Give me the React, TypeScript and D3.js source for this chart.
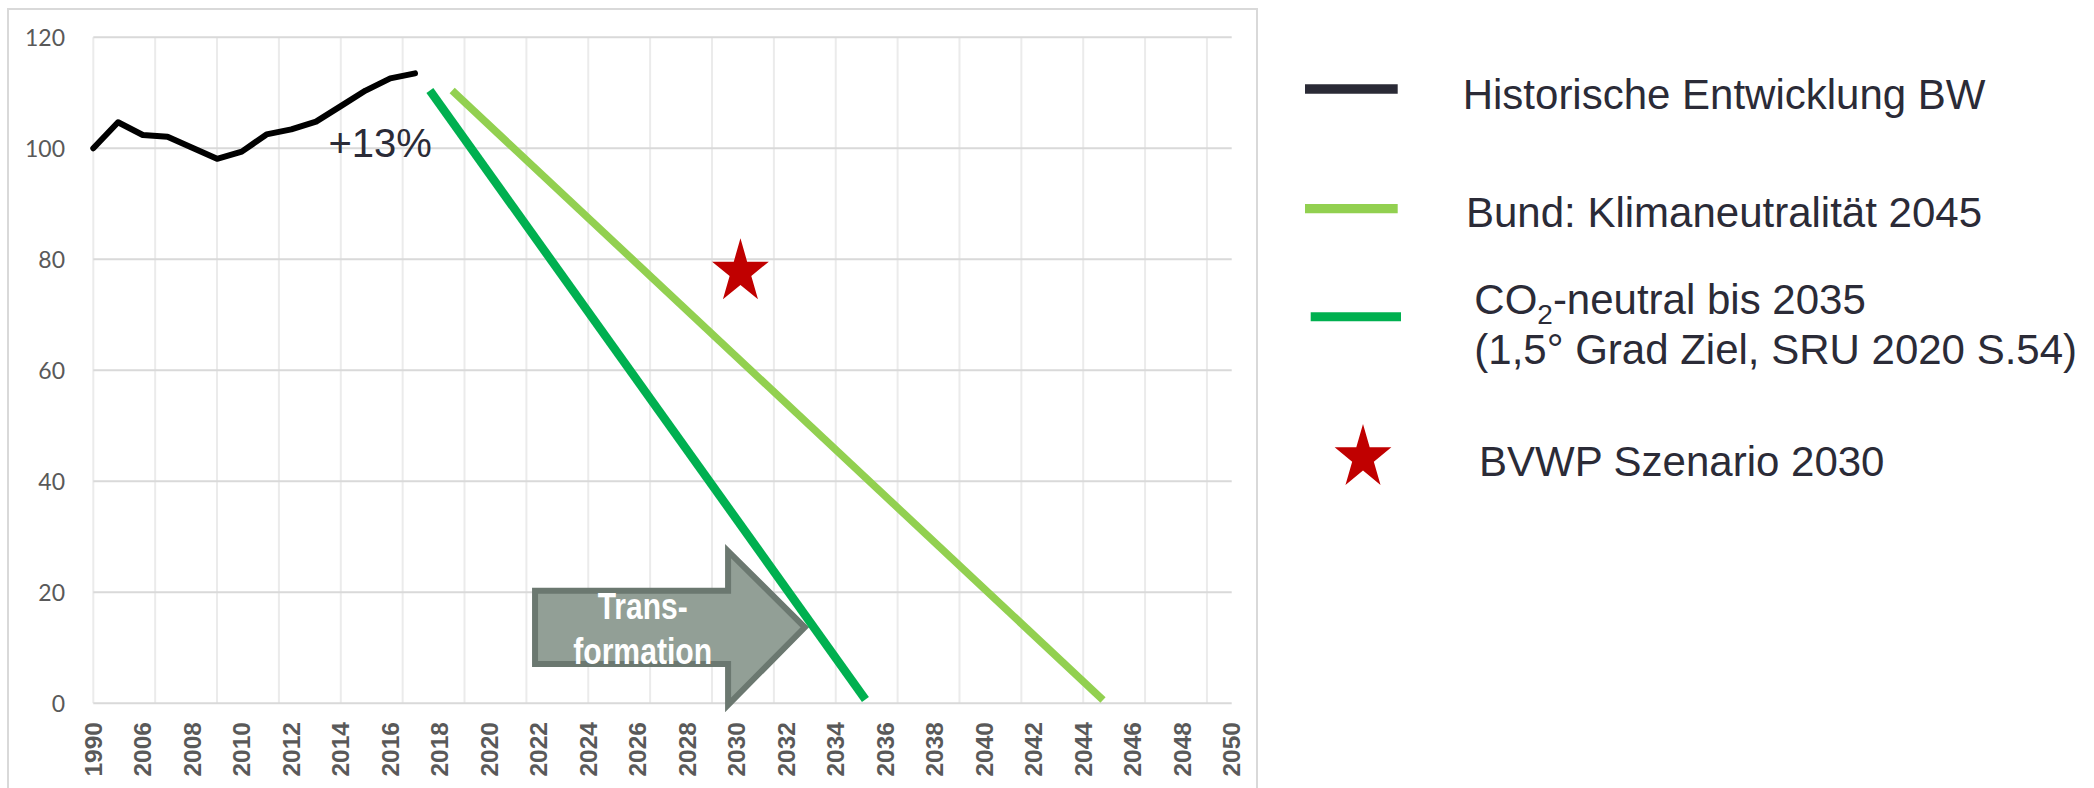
import React from "react";
import * as d3 from "d3";

// Category axis: 1990, then 2006 … 2050 in steps of two
const tickYears: number[] = [1990, ...d3.range(2006, 2051, 2)];
const yTicks: number[] = [0, 20, 40, 60, 80, 100, 120];

// Historical development (index, 1990 = 100)
const histYears: number[] = [1990, 2005, 2006, 2007, 2008, 2009, 2010, 2011, 2012, 2013, 2014, 2015, 2016, 2017];
const histValues: number[] = [100, 104.7, 102.4, 102.1, 100.1, 98.1, 99.4, 102.5, 103.4, 104.8, 107.6, 110.4, 112.6, 113.5];

// Reduction paths
const bundYears: number[] = [2018.5, 2044.8];
const bundValues: number[] = [110.4, 0.6];
const co2Years: number[] = [2017.6, 2035.2];
const co2Values: number[] = [110.4, 0.7];

// BVWP scenario point
const bvwpYear = 2030.15;
const bvwpValue = 77.7;

const COLORS = {
  hist: "#000000",
  histLegend: "#2a2a36",
  bund: "#92d050",
  co2: "#00b050",
  star: "#c00000",
  text: "#2b2b37",
  axis: "#595959",
};

// Position on the category axis: 1990 sits at slot 0, later years run two per slot
const slot = (year: number): number => (year === 1990 ? 0 : 1 + (year - 2006) / 2);

const x = d3.scaleLinear().domain([0, tickYears.length - 1]).range([93.3, 1231.7]);
const y = d3.scaleLinear().domain([0, 120]).range([703.3, 37.3]);
const xy = (yr: number, v: number): [number, number] => [x(slot(yr)), y(v)];

const line = d3.line<[number, number]>().x((d) => d[0]).y((d) => d[1]);

const histPts = histYears.map((yr, i) => xy(yr, histValues[i]));
const bundPts = bundYears.map((yr, i) => xy(yr, bundValues[i]));
const co2Pts = co2Years.map((yr, i) => xy(yr, co2Values[i]));

const starPath = d3.symbol().type(d3.symbolStar).size(1275)() as string;

// vertical grid every 1.25 category slots
const vGrid = d3.range(0, 18.01, 1).map((k) => k * 1.25);

const sans = "'Liberation Sans', Arial, Helvetica, sans-serif";
const narrow = "'Liberation Sans Narrow', 'Arial Narrow', 'Liberation Sans', Arial, sans-serif";

export default function App() {
  const [sx, sy] = xy(bvwpYear, bvwpValue);
  const arrowX0 = x(slot(2021.85));
  const arrowXh = x(slot(2029.65));
  const arrowXt = x(slot(2032.75));
  const bodyTop = y(20.3);
  const bodyBot = y(7.1);
  const headTop = y(27.4);
  const headBot = y(-0.3);
  const headMid = (bodyTop + bodyBot) / 2;
  const arrowPath = [
    `M${arrowX0},${bodyTop}`,
    `L${arrowXh},${bodyTop}`,
    `L${arrowXh},${headTop}`,
    `L${arrowXt},${headMid}`,
    `L${arrowXh},${headBot}`,
    `L${arrowXh},${bodyBot}`,
    `L${arrowX0},${bodyBot}`,
    "Z",
  ].join(" ");
  const arrowTextX = x(slot(2026.2));

  return (
    <svg
      width={2094}
      height={788}
      style={{ position: "absolute", left: 0, top: 0, display: "block", background: "#fff" }}
    >
      {/* chart frame */}
      <rect x={8} y={9} width={1249} height={800} fill="none" stroke="#d9d9d9" strokeWidth={2} />

      {/* grid */}
      {vGrid.map((g) => (
        <line key={"v" + g} x1={x(g)} x2={x(g)} y1={y(120)} y2={y(0)} stroke="#ebebeb" strokeWidth={2} />
      ))}
      {yTicks.map((t) => (
        <line key={"h" + t} x1={x(0)} x2={x(tickYears.length - 1)} y1={y(t)} y2={y(t)} stroke="#d9d9d9" strokeWidth={2} />
      ))}

      {/* y labels */}
      {yTicks.map((t) => (
        <text
          key={"yl" + t}
          x={65}
          y={y(t)}
          textAnchor="end"
          dominantBaseline="central"
          fontFamily="Lato, 'Open Sans', sans-serif"
          fontSize={23}
          fill={COLORS.axis}
        >
          {t}
        </text>
      ))}

      {/* x labels */}
      {tickYears.map((yr, i) => (
        <text
          key={"xl" + yr}
          transform={`translate(${x(i)},722) rotate(-90)`}
          textAnchor="end"
          dominantBaseline="central"
          fontFamily={sans}
          fontWeight="bold"
          fontSize={24.5}
          fill={COLORS.axis}
        >
          {yr}
        </text>
      ))}

      {/* transformation arrow */}
      <path d={arrowPath} fill="#929f96" stroke="#6b7870" strokeWidth={6} strokeLinejoin="miter" />
      <text x={arrowTextX} y={619.3} textAnchor="middle" fontFamily={narrow} fontWeight="bold" fontSize={36} fill="#ffffff" textLength={90} lengthAdjust="spacingAndGlyphs">
        Trans-
      </text>
      <text x={arrowTextX} y={664} textAnchor="middle" fontFamily={narrow} fontWeight="bold" fontSize={36} fill="#ffffff" textLength={139} lengthAdjust="spacingAndGlyphs">
        formation
      </text>

      {/* series */}
      <path d={line(bundPts) as string} fill="none" stroke={COLORS.bund} strokeWidth={7.5} strokeLinecap="butt" />
      <path d={line(co2Pts) as string} fill="none" stroke={COLORS.co2} strokeWidth={8.5} strokeLinecap="butt" />
      <path d={line(histPts) as string} fill="none" stroke={COLORS.hist} strokeWidth={6} strokeLinejoin="round" strokeLinecap="round" />

      {/* +13% */}
      <text x={x(slot(2013.5))} y={y(98.5)} fontFamily={sans} fontSize={40} fill={COLORS.text}>
        +13%
      </text>

      {/* BVWP star */}
      <path d={starPath} transform={`translate(${sx},${sy}) scale(0.885,1)`} fill={COLORS.star} />

      {/* legend */}
      <g fontFamily={sans} fontSize={42} fill={COLORS.text}>
        <line x1={1305} x2={1397.7} y1={89} y2={89} stroke={COLORS.histLegend} strokeWidth={9.3} />
        <text x={1462.7} y={109.3}>Historische Entwicklung BW</text>

        <line x1={1305} x2={1397.7} y1={208.7} y2={208.7} stroke={COLORS.bund} strokeWidth={9.3} />
        <text x={1466} y={226.7}>Bund: Klimaneutralität 2045</text>

        <line x1={1310.7} x2={1401} y1={316.7} y2={316.7} stroke={COLORS.co2} strokeWidth={9} />
        <text x={1474.3} y={314.3}>
          CO
          <tspan fontSize={28} dy={10}>2</tspan>
          <tspan dy={-10}>-neutral bis 2035</tspan>
        </text>
        <text x={1474.3} y={364.3}>(1,5° Grad Ziel, SRU 2020 S.54)</text>

        <path d={starPath} transform={`translate(1363,457.7) scale(0.885,1)`} fill={COLORS.star} />
        <text x={1479} y={476}>BVWP Szenario 2030</text>
      </g>
    </svg>
  );
}
